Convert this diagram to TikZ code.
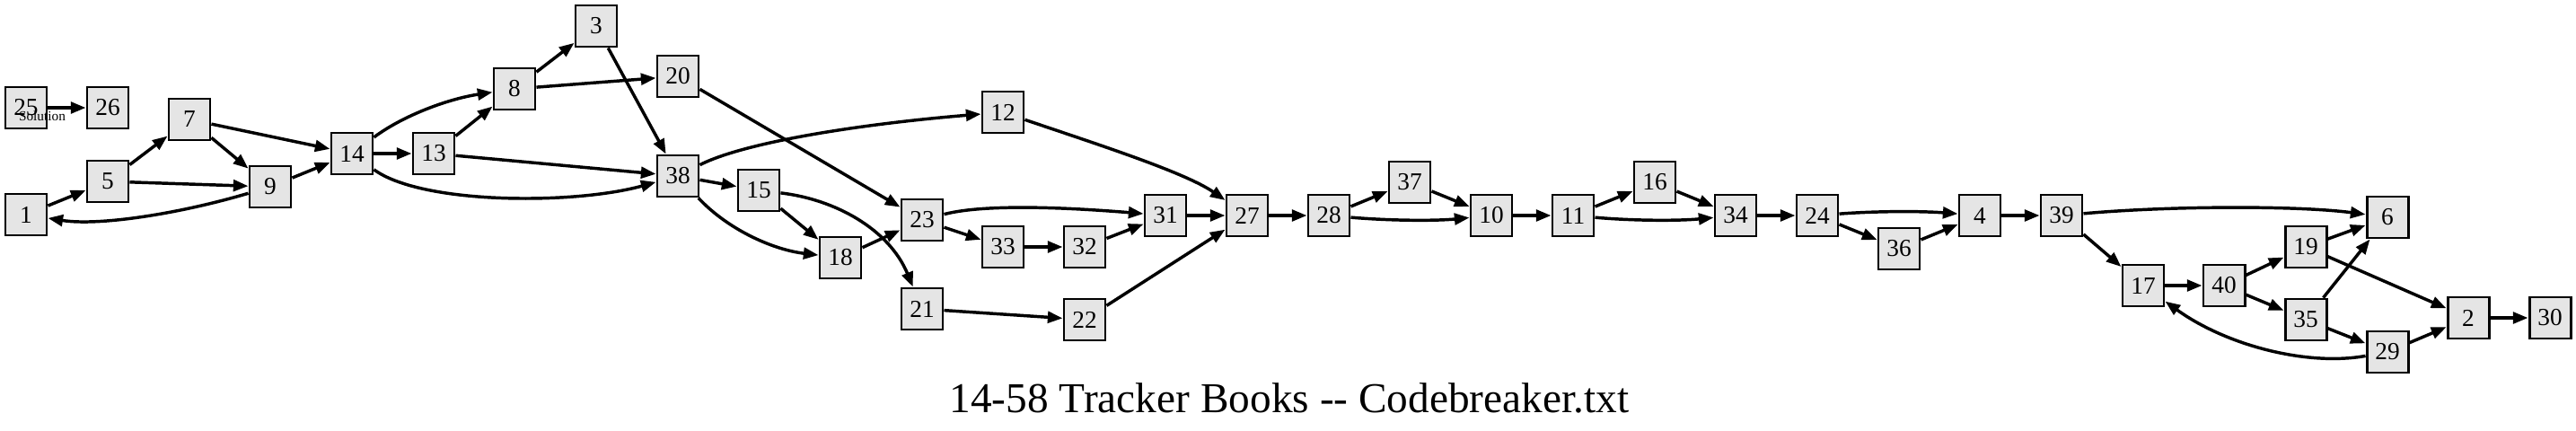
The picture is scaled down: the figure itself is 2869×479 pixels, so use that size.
\documentclass[tikz,border=0pt]{standalone}
\usepackage{fontspec}
\setmainfont{Liberation Serif}
\usetikzlibrary{arrows.meta}
\begin{document}
\begin{tikzpicture}[x=0.75pt,y=-0.75pt,
  box/.style={draw=black,fill=black!10,line width=2.2pt,minimum size=34.5pt,inner sep=0pt,font=\fontsize{20.5}{24}\selectfont},
  edge/.style={line width=2.6pt,-{Triangle[length=12.5pt,width=9.5pt]}},
  lbl/.style={font=\fontsize{11.5}{13}\selectfont,inner sep=0pt,anchor=base}]
\useasboundingbox (0,0) rectangle (2869,479);
\node[box] (n25) at (29,120) {25};
\node[box] (n26) at (120,120) {26};
\node[box] (n7) at (211,133) {7};
\node[box] (n5) at (120,202) {5};
\node[box] (n1) at (29,239) {1};
\node[box] (n9) at (301,208) {9};
\node[box] (n14) at (392,171) {14};
\node[box] (n13) at (483,171) {13};
\node[box] (n8) at (573,99) {8};
\node[box] (n3) at (664,29) {3};
\node[box] (n20) at (755,85) {20};
\node[box] (n38) at (755,196) {38};
\node[box] (n15) at (845,212) {15};
\node[box] (n12) at (1117,125) {12};
\node[box] (n23) at (1027,245) {23};
\node[box] (n18) at (936,287) {18};
\node[box] (n21) at (1027,344) {21};
\node[box] (n33) at (1117,275) {33};
\node[box] (n32) at (1208,275) {32};
\node[box] (n31) at (1298,240) {31};
\node[box] (n22) at (1208,356) {22};
\node[box] (n27) at (1389,240) {27};
\node[box] (n28) at (1480,240) {28};
\node[box] (n37) at (1570,203) {37};
\node[box] (n10) at (1661,240) {10};
\node[box] (n11) at (1752,240) {11};
\node[box] (n16) at (1843,203) {16};
\node[box] (n34) at (1933,240) {34};
\node[box] (n24) at (2024,240) {24};
\node[box] (n36) at (2115,277) {36};
\node[box] (n4) at (2205,240) {4};
\node[box] (n39) at (2296,240) {39};
\node[box] (n17) at (2387,318) {17};
\node[box] (n40) at (2477,318) {40};
\node[box] (n19) at (2568,275) {19};
\node[box] (n35) at (2568,356) {35};
\node[box] (n6) at (2659,242) {6};
\node[box] (n2) at (2749,354) {2};
\node[box] (n29) at (2659,392) {29};
\node[box] (n30) at (2840,354) {30};
\node[lbl] (sol) at (47,134) {Solution};
\node[font=\fontsize{35.5}{40}\selectfont,inner sep=0pt,anchor=base] (title) at (1436,459) {14-58 Tracker Books -{}- Codebreaker.txt};
% edges
\draw[edge] (n25) -- (n26);
\draw[edge] (n1) -- (n5);
\draw[edge] (n5) -- (n7);
\draw[edge] (n5) -- (n9);
\draw[edge] (n7) -- (n9);
\draw[edge] (n7) -- (n14);
\draw[edge] (n9) -- (n14);
\draw[edge] (n9) .. controls (200,238) and (110,252) .. (n1);
\draw[edge] (n14) .. controls (450,128) and (500,110) .. (n8);
\draw[edge] (n14) -- (n13);
\draw[edge] (n14) .. controls (470,228) and (640,228) .. (n38);
\draw[edge] (n13) -- (n8);
\draw[edge] (n13) -- (n38);
\draw[edge] (n8) -- (n3);
\draw[edge] (n8) -- (n20);
\draw[edge] (n3) -- (n38);
\draw[edge] (n20) -- (n23);
\draw[edge] (n38) .. controls (830,158) and (960,138) .. (n12);
\draw[edge] (n38) -- (n15);
\draw[edge] (n38) .. controls (810,255) and (860,278) .. (n18);
\draw[edge] (n15) -- (n18);
\draw[edge] (n15) .. controls (930,222) and (990,255) .. (n21);
\draw[edge] (n18) -- (n23);
\draw[edge] (n23) .. controls (1100,226) and (1200,232) .. (n31);
\draw[edge] (n23) -- (n33);
\draw[edge] (n33) -- (n32);
\draw[edge] (n32) -- (n31);
\draw[edge] (n31) -- (n27);
\draw[edge] (n12) .. controls (1220,160) and (1320,192) .. (n27);
\draw[edge] (n22) -- (n27);
\draw[edge] (n21) -- (n22);
\draw[edge] (n27) -- (n28);
\draw[edge] (n28) -- (n37);
\draw[edge] (n28) .. controls (1550,246) and (1600,246) .. (n10);
\draw[edge] (n37) -- (n10);
\draw[edge] (n10) -- (n11);
\draw[edge] (n11) -- (n16);
\draw[edge] (n11) .. controls (1820,246) and (1870,246) .. (n34);
\draw[edge] (n16) -- (n34);
\draw[edge] (n34) -- (n24);
\draw[edge] (n24) .. controls (2090,235) and (2140,235) .. (n4);
\draw[edge] (n24) -- (n36);
\draw[edge] (n36) -- (n4);
\draw[edge] (n4) -- (n39);
\draw[edge] (n39) .. controls (2420,229) and (2560,229) .. (n6);
\draw[edge] (n39) -- (n17);
\draw[edge] (n17) -- (n40);
\draw[edge] (n40) -- (n19);
\draw[edge] (n40) -- (n35);
\draw[edge] (n19) -- (n6);
\draw[edge] (n19) -- (n2);
\draw[edge] (n35) -- (n6);
\draw[edge] (n35) -- (n29);
\draw[edge] (n29) -- (n2);
\draw[edge] (n29) .. controls (2570,408) and (2480,385) .. (n17);
\draw[edge] (n2) -- (n30);
\end{tikzpicture}
\end{document}
